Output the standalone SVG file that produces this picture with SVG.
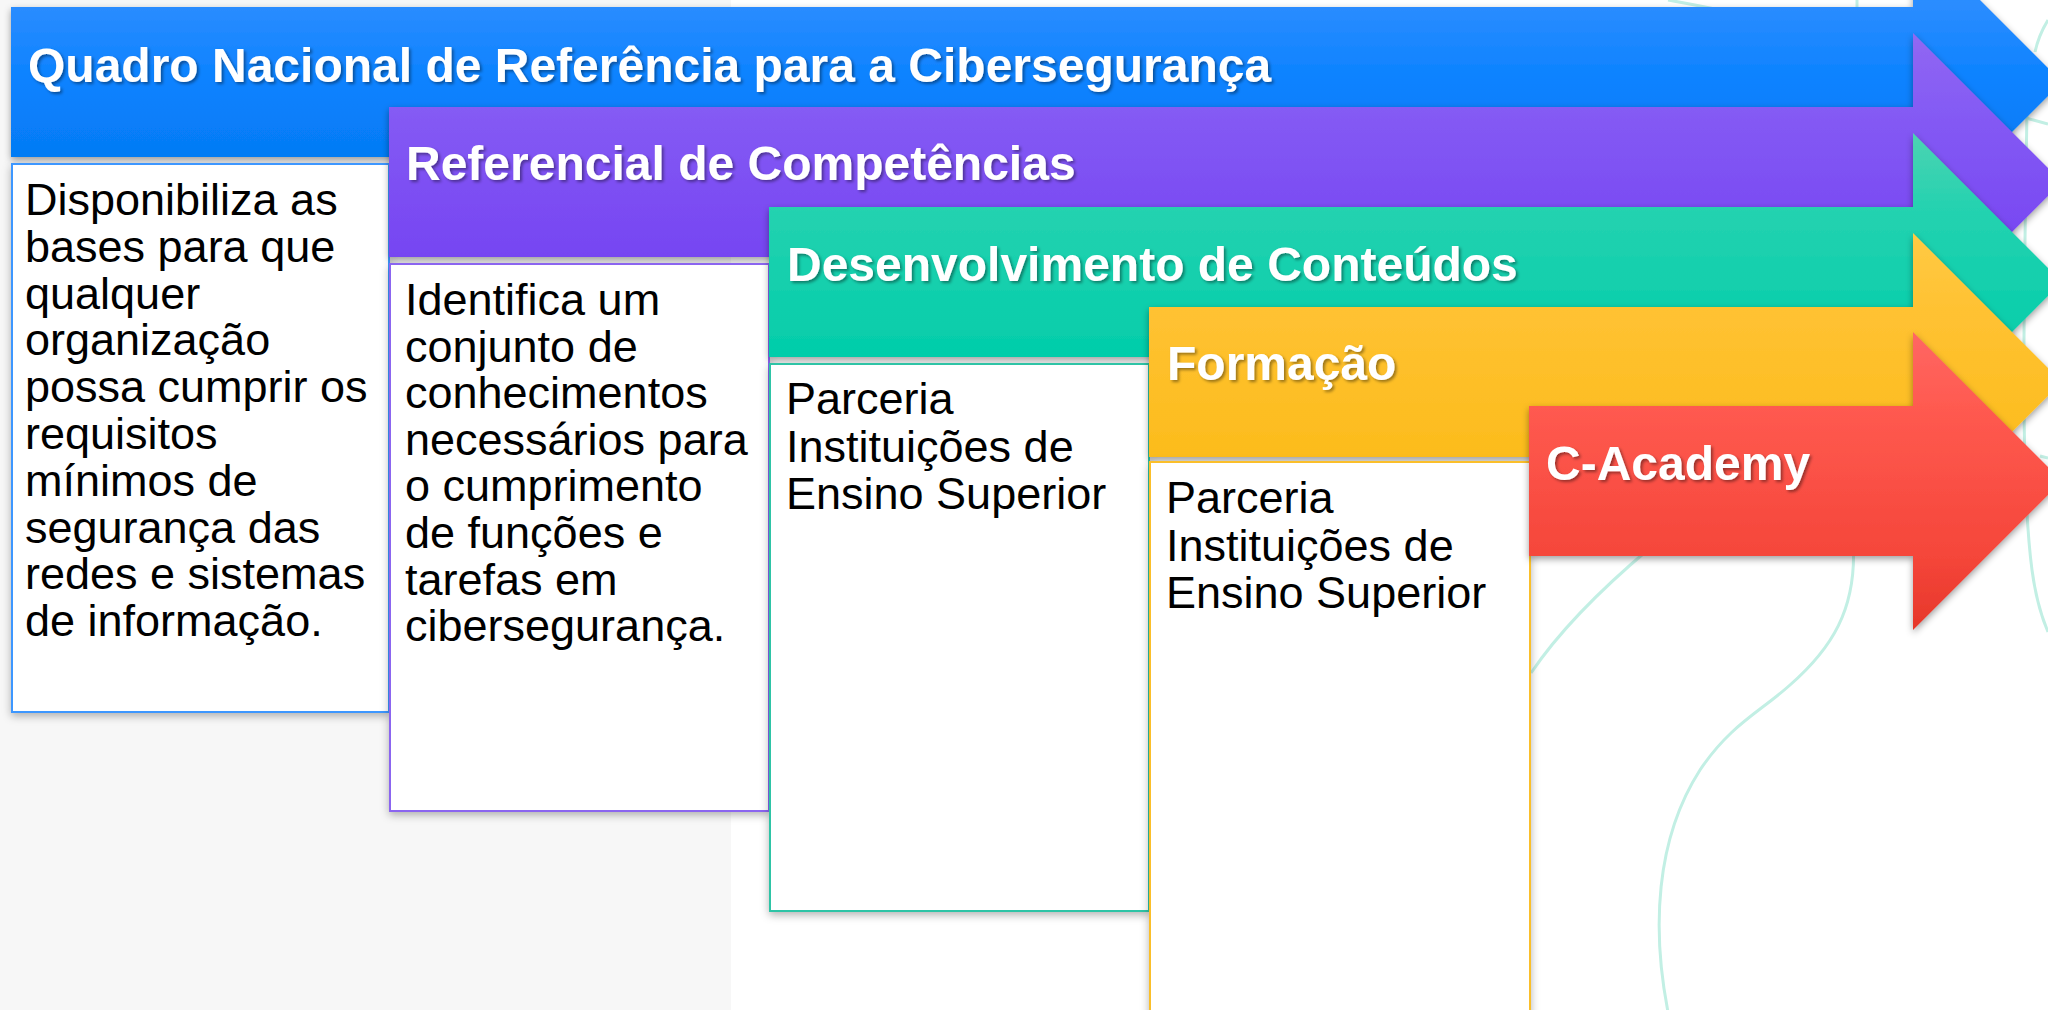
<svg xmlns="http://www.w3.org/2000/svg" width="2048" height="1010" viewBox="0 0 2048 1010">
<defs>
<linearGradient id="gBlue" x1="0" y1="0" x2="0" y2="1"><stop offset="0" stop-color="#3b96ff"/><stop offset="0.25" stop-color="#2a8cff"/><stop offset="0.5" stop-color="#0a82ff"/><stop offset="1" stop-color="#0074ea"/></linearGradient>
<linearGradient id="gPurple" x1="0" y1="0" x2="0" y2="1"><stop offset="0" stop-color="#9168f2"/><stop offset="0.25" stop-color="#855bf4"/><stop offset="0.75" stop-color="#7645f2"/><stop offset="1" stop-color="#6c3ae6"/></linearGradient>
<linearGradient id="gTeal" x1="0" y1="0" x2="0" y2="1"><stop offset="0" stop-color="#4dd3b2"/><stop offset="0.25" stop-color="#25d2b0"/><stop offset="0.75" stop-color="#02cdaa"/><stop offset="1" stop-color="#00c2a2"/></linearGradient>
<linearGradient id="gYellow" x1="0" y1="0" x2="0" y2="1"><stop offset="0" stop-color="#ffca44"/><stop offset="0.25" stop-color="#ffc233"/><stop offset="0.75" stop-color="#fcbc1c"/><stop offset="1" stop-color="#f6b414"/></linearGradient>
<linearGradient id="gRed" x1="0" y1="0" x2="0" y2="1"><stop offset="0" stop-color="#ff6763"/><stop offset="0.25" stop-color="#ff5a50"/><stop offset="0.75" stop-color="#f5463a"/><stop offset="1" stop-color="#e6372a"/></linearGradient>
<filter id="shArrow" x="-5%" y="-10%" width="110%" height="130%"><feDropShadow dx="0" dy="3" stdDeviation="3.5" flood-color="#000" flood-opacity="0.38"/></filter>
<filter id="shBox" x="-5%" y="-5%" width="110%" height="110%"><feDropShadow dx="0" dy="3" stdDeviation="4" flood-color="#000" flood-opacity="0.3"/></filter>
<filter id="shText" x="-5%" y="-20%" width="110%" height="150%"><feDropShadow dx="2" dy="2" stdDeviation="1.5" flood-color="#000" flood-opacity="0.4"/></filter>
<style>
.hdr{font-family:"Liberation Sans",Arial,sans-serif;font-weight:bold;font-size:48px;fill:#ffffff;filter:url(#shText)}
.body{font-family:"Liberation Sans",Arial,sans-serif;font-size:45px;fill:#000000}
.box{fill:#ffffff;stroke-width:2;filter:url(#shBox)}
.arrow{filter:url(#shArrow)}
.deco{fill:none;stroke:#c2efe4;stroke-width:3}
</style>
</defs>
<rect x="0" y="0" width="2048" height="1010" fill="#ffffff"/>
<rect x="0" y="0" width="731" height="1010" fill="#f7f7f7"/>
<g id="background-curves">
<path class="deco" d="M1668 1012 C1652 930,1655 840,1700 770 C1730 725,1760 712,1790 685 C1830 650,1858 610,1853 540 C1850 500,1848 470,1850 440"/>
<path class="deco" d="M1531 673 C1560 630,1600 590,1650 548"/>
<path class="deco" d="M2027 110 C2024 300,2020 480,2032 570 C2036 600,2042 618,2048 632"/>
<path class="deco" d="M2035 52 C2038 38,2043 28,2048 20"/>
<path class="deco" d="M2026 118 L2048 124"/>
<path class="deco" d="M2040 456 L2048 458"/>
<path class="deco" d="M1668 0 C1685 3,1700 6,1715 9"/>
<path class="deco" d="M1857 0 L1857 8"/>
</g>
<g id="connectors"/>
<g id="node-quadro">
<polygon class="arrow" fill="url(#gBlue)" points="11,7 1913,7 1913,-67 2062,82 1913,231 1913,157 11,157"/>
<text class="hdr" x="28" y="82">Quadro Nacional de Referência para a Cibersegurança</text>
</g>
<g id="node-quadro-desc">
<rect class="box" x="12" y="164" width="377" height="548" stroke="#3d97ff"/>
<text class="body" x="25" y="215">Disponibiliza as<tspan x="25" dy="46.8">bases para que</tspan><tspan x="25" dy="46.8">qualquer</tspan><tspan x="25" dy="46.8">organização</tspan><tspan x="25" dy="46.8">possa cumprir os</tspan><tspan x="25" dy="46.8">requisitos</tspan><tspan x="25" dy="46.8">mínimos de</tspan><tspan x="25" dy="46.8">segurança das</tspan><tspan x="25" dy="46.8">redes e sistemas</tspan><tspan x="25" dy="46.8">de informação.</tspan></text>
</g>
<g id="node-referencial">
<polygon class="arrow" fill="url(#gPurple)" points="389,107 1913,107 1913,33 2062,182 1913,331 1913,257 389,257"/>
<text class="hdr" x="406" y="180">Referencial de Competências</text>
</g>
<g id="node-referencial-desc">
<rect class="box" x="390" y="264" width="379" height="547" stroke="#8b65f0"/>
<text class="body" x="405" y="315">Identifica um<tspan x="405" dy="46.6">conjunto de</tspan><tspan x="405" dy="46.6">conhecimentos</tspan><tspan x="405" dy="46.6">necessários para</tspan><tspan x="405" dy="46.6">o cumprimento</tspan><tspan x="405" dy="46.6">de funções e</tspan><tspan x="405" dy="46.6">tarefas em</tspan><tspan x="405" dy="46.6">cibersegurança.</tspan></text>
</g>
<g id="node-desenvolvimento">
<polygon class="arrow" fill="url(#gTeal)" points="769,207 1913,207 1913,133 2062,282 1913,431 1913,357 769,357"/>
<text class="hdr" x="787" y="281">Desenvolvimento de Conteúdos</text>
</g>
<g id="node-desenvolvimento-desc">
<rect class="box" x="770" y="364" width="379" height="547" stroke="#2ec4a6"/>
<text class="body" x="786" y="414">Parceria<tspan x="786" dy="47.5">Instituições de</tspan><tspan x="786" dy="47.5">Ensino Superior</tspan></text>
</g>
<g id="node-formacao">
<polygon class="arrow" fill="url(#gYellow)" points="1149,307 1913,307 1913,233 2062,382 1913,531 1913,457 1149,457"/>
<text class="hdr" x="1167" y="380">Formação</text>
</g>
<g id="node-formacao-desc">
<rect class="box" x="1150" y="462" width="380" height="570" stroke="#fbbf2b"/>
<text class="body" x="1166" y="513">Parceria<tspan x="1166" dy="47.5">Instituições de</tspan><tspan x="1166" dy="47.5">Ensino Superior</tspan></text>
</g>
<g id="node-cacademy">
<polygon class="arrow" fill="url(#gRed)" points="1529,406 1913,406 1913,332 2062,481 1913,630 1913,556 1529,556"/>
<text class="hdr" x="1546" y="480">C-Academy</text>
</g>
</svg>
